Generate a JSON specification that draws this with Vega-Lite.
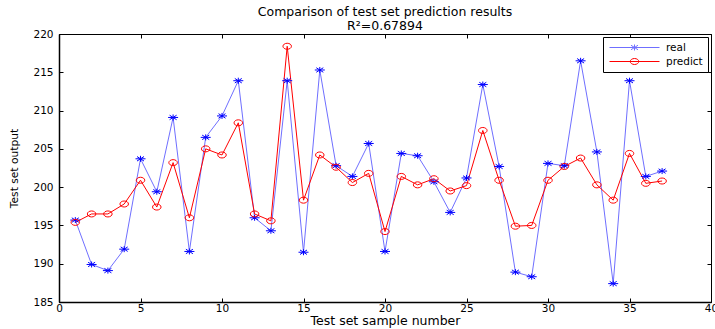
{
  "$schema": "https://vega.github.io/schema/vega-lite/v6.json",
  "width": 652,
  "height": 268,
  "autosize": "none",
  "padding": {"left": 59, "top": 34, "right": 4, "bottom": 27},
  "background": "white",
  "config": {
    "font": "DejaVu Sans",
    "view": {"stroke": "black", "strokeWidth": 1},
    "axis": {
      "grid": false,
      "domain": false,
      "tickColor": "black",
      "tickSize": -4,
      "labelColor": "black",
      "labelFontSize": 10.5,
      "labelFlush": false,
      "titleColor": "black",
      "titleFontWeight": "normal"
    },
    "legend": {
      "labelFontSize": 10.5,
      "labelColor": "black"
    }
  },
  "title": {
    "text": ["Comparison of test set prediction results", "R²=0.67894"],
    "fontSize": 12.5,
    "fontWeight": "normal",
    "color": "black",
    "lineHeight": 14,
    "offset": -3
  },
  "data": {
    "values": [
      {"sample": 1, "series": "real", "value": 195.7},
      {"sample": 2, "series": "real", "value": 189.9},
      {"sample": 3, "series": "real", "value": 189.1},
      {"sample": 4, "series": "real", "value": 191.9},
      {"sample": 5, "series": "real", "value": 203.7},
      {"sample": 6, "series": "real", "value": 199.4},
      {"sample": 7, "series": "real", "value": 209.1},
      {"sample": 8, "series": "real", "value": 191.6},
      {"sample": 9, "series": "real", "value": 206.5},
      {"sample": 10, "series": "real", "value": 209.3},
      {"sample": 11, "series": "real", "value": 213.9},
      {"sample": 12, "series": "real", "value": 196.0},
      {"sample": 13, "series": "real", "value": 194.3},
      {"sample": 14, "series": "real", "value": 213.9},
      {"sample": 15, "series": "real", "value": 191.5},
      {"sample": 16, "series": "real", "value": 215.3},
      {"sample": 17, "series": "real", "value": 202.8},
      {"sample": 18, "series": "real", "value": 201.4},
      {"sample": 19, "series": "real", "value": 205.7},
      {"sample": 20, "series": "real", "value": 191.6},
      {"sample": 21, "series": "real", "value": 204.4},
      {"sample": 22, "series": "real", "value": 204.1},
      {"sample": 23, "series": "real", "value": 200.7},
      {"sample": 24, "series": "real", "value": 196.7},
      {"sample": 25, "series": "real", "value": 201.2},
      {"sample": 26, "series": "real", "value": 213.4},
      {"sample": 27, "series": "real", "value": 202.7},
      {"sample": 28, "series": "real", "value": 188.9},
      {"sample": 29, "series": "real", "value": 188.3},
      {"sample": 30, "series": "real", "value": 203.1},
      {"sample": 31, "series": "real", "value": 202.8},
      {"sample": 32, "series": "real", "value": 216.5},
      {"sample": 33, "series": "real", "value": 204.6},
      {"sample": 34, "series": "real", "value": 187.4},
      {"sample": 35, "series": "real", "value": 213.9},
      {"sample": 36, "series": "real", "value": 201.4},
      {"sample": 37, "series": "real", "value": 202.1},
      {"sample": 1, "series": "predict", "value": 195.4},
      {"sample": 2, "series": "predict", "value": 196.5},
      {"sample": 3, "series": "predict", "value": 196.5},
      {"sample": 4, "series": "predict", "value": 197.8},
      {"sample": 5, "series": "predict", "value": 200.9},
      {"sample": 6, "series": "predict", "value": 197.4},
      {"sample": 7, "series": "predict", "value": 203.2},
      {"sample": 8, "series": "predict", "value": 196.0},
      {"sample": 9, "series": "predict", "value": 205.0},
      {"sample": 10, "series": "predict", "value": 204.2},
      {"sample": 11, "series": "predict", "value": 208.4},
      {"sample": 12, "series": "predict", "value": 196.5},
      {"sample": 13, "series": "predict", "value": 195.6},
      {"sample": 14, "series": "predict", "value": 218.4},
      {"sample": 15, "series": "predict", "value": 198.3},
      {"sample": 16, "series": "predict", "value": 204.2},
      {"sample": 17, "series": "predict", "value": 202.6},
      {"sample": 18, "series": "predict", "value": 200.6},
      {"sample": 19, "series": "predict", "value": 201.8},
      {"sample": 20, "series": "predict", "value": 194.2},
      {"sample": 21, "series": "predict", "value": 201.4},
      {"sample": 22, "series": "predict", "value": 200.3},
      {"sample": 23, "series": "predict", "value": 201.1},
      {"sample": 24, "series": "predict", "value": 199.5},
      {"sample": 25, "series": "predict", "value": 200.2},
      {"sample": 26, "series": "predict", "value": 207.4},
      {"sample": 27, "series": "predict", "value": 200.9},
      {"sample": 28, "series": "predict", "value": 194.9},
      {"sample": 29, "series": "predict", "value": 195.0},
      {"sample": 30, "series": "predict", "value": 200.9},
      {"sample": 31, "series": "predict", "value": 202.7},
      {"sample": 32, "series": "predict", "value": 203.8},
      {"sample": 33, "series": "predict", "value": 200.3},
      {"sample": 34, "series": "predict", "value": 198.3},
      {"sample": 35, "series": "predict", "value": 204.4},
      {"sample": 36, "series": "predict", "value": 200.5},
      {"sample": 37, "series": "predict", "value": 200.8}
    ]
  },
  "resolve": {"axis": {"x": "independent", "y": "independent"}},
  "layer": [
    {
      "mark": {"type": "line", "strokeWidth": 1},
      "encoding": {
        "x": {
          "field": "sample", "type": "quantitative",
          "scale": {"domain": [0, 40], "nice": false},
          "axis": {"values": [0, 5, 10, 15, 20, 25, 30, 35, 40], "title": "Test set sample number", "titleFontSize": 12.5, "labelPadding": 5, "titlePadding": 1, "domain": true, "domainColor": "black", "domainWidth": 1.5}
        },
        "y": {
          "field": "value", "type": "quantitative",
          "scale": {"domain": [185, 220], "nice": false, "zero": false},
          "axis": {"values": [185, 190, 195, 200, 205, 210, 215, 220], "title": "Test set output", "titleFontSize": 10.7, "labelPadding": 10, "titlePadding": 13, "domain": true, "domainColor": "black", "domainWidth": 1.5}
        },
        "color": {
          "field": "series", "type": "nominal",
          "scale": {"domain": ["real", "predict"], "range": ["#6f6fff", "#ff0000"]},
          "legend": {
            "title": null,
            "orient": "top-right",
            "offset": 3,
            "padding": 5,
            "rowPadding": 3,
            "strokeColor": "black",
            "fillColor": "white",
            "cornerRadius": 0,
            "symbolSize": 100,
            "symbolStrokeWidth": 1,
            "symbolOffset": 21,
            "labelOffset": 26,
            "encode": {
              "symbols": {
                "update": {
                  "shape": {"signal": "datum.value === 'real' ? 'M-5,0L5,0M-1,0L1,0M0,-0.6L0,0.6M-0.7,-0.45L0.7,0.45M-0.7,0.45L0.7,-0.45' : 'M-5,0L5,0M-0.85,0A0.85,0.6 0 1,0 0.85,0A0.85,0.6 0 1,0 -0.85,0Z'"},
                  "fill": {"value": "transparent"}
                }
              }
            }
          }
        }
      }
    },
    {
      "transform": [{"filter": "datum.series === 'real'"}],
      "mark": {"type": "point", "filled": false, "strokeWidth": 1, "size": 100, "opacity": 1, "color": "#0000ff",
               "shape": "M-1,0L1,0M0,-0.6L0,0.6M-0.7,-0.45L0.7,0.45M-0.7,0.45L0.7,-0.45"},
      "encoding": {
        "x": {
          "field": "sample", "type": "quantitative",
          "scale": {"domain": [0, 40], "nice": false},
          "axis": {"orient": "top", "values": [0, 5, 10, 15, 20, 25, 30, 35, 40], "labels": false, "title": null}
        },
        "y": {
          "field": "value", "type": "quantitative",
          "scale": {"domain": [185, 220], "nice": false, "zero": false},
          "axis": {"orient": "right", "values": [185, 190, 195, 200, 205, 210, 215, 220], "labels": false, "title": null}
        }
      }
    },
    {
      "transform": [{"filter": "datum.series === 'predict'"}],
      "mark": {"type": "point", "filled": false, "strokeWidth": 1, "size": 100, "opacity": 1, "color": "#ff0000",
               "shape": "M-0.85,0A0.85,0.6 0 1,0 0.85,0A0.85,0.6 0 1,0 -0.85,0Z"},
      "encoding": {
        "x": {
          "field": "sample", "type": "quantitative",
          "scale": {"domain": [0, 40], "nice": false},
          "axis": null
        },
        "y": {
          "field": "value", "type": "quantitative",
          "scale": {"domain": [185, 220], "nice": false, "zero": false},
          "axis": null
        }
      }
    }
  ]
}
